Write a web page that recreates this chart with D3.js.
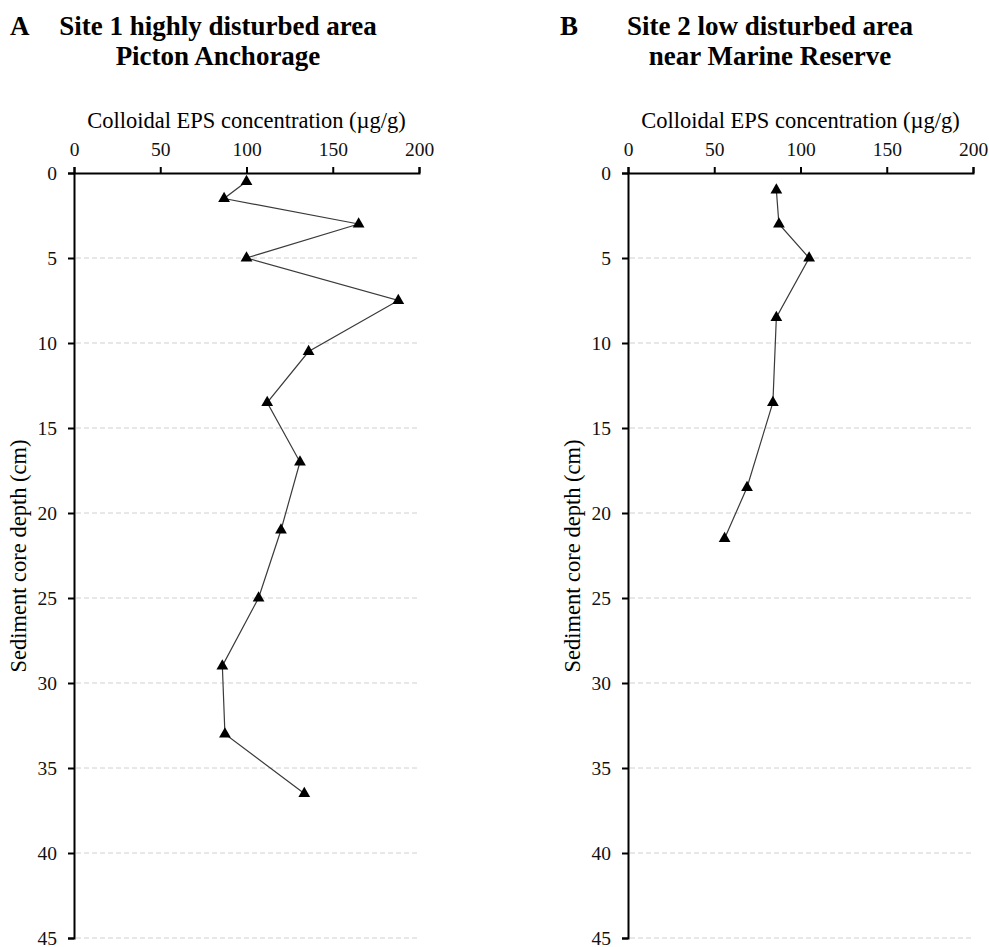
<!DOCTYPE html>
<html>
<head>
<meta charset="utf-8">
<script src="https://cdn.jsdelivr.net/npm/d3@7/dist/d3.min.js"></script>
<style>
  html, body { margin: 0; padding: 0; background: #fff; }
  svg { display: block; }
</style>
</head>
<body>
<svg id="chart" width="989" height="947"></svg>
<script>
// ---- Data ----
const depthA = [0.5, 1.5, 3, 5, 7.5, 10.5, 13.5, 17, 21, 25, 29, 33, 36.5];
const epsA   = [100, 87, 165, 100, 188, 136, 112, 131, 120, 107, 86, 87.5, 133.5];
const depthB = [1, 3, 5, 8.5, 13.5, 18.5, 21.5];
const epsB   = [86, 87.5, 105, 86, 84, 69, 56];
const xTicks = [0, 50, 100, 150, 200];
const yTicks = [0, 5, 10, 15, 20, 25, 30, 35, 40, 45];
const gridTicks = [5, 10, 15, 20, 25, 30, 35, 40, 45];
const panelLetters = ["A", "B"];
const titleLine1 = ["Site 1 highly disturbed area", "Site 2 low disturbed area"];
const titleLine2 = ["Picton Anchorage", "near Marine Reserve"];
const xLabel = "Colloidal EPS concentration (\u00b5g/g)";
const yLabel = "Sediment core depth (cm)";

const svg = d3.select("#chart");
const serif = "'Liberation Serif', 'Times New Roman', serif";

const panels = [
  { left: 74, right: 419, letterX: 10, titleCx: 218, depth: depthA, eps: epsA },
  { left: 628, right: 973, letterX: 560, titleCx: 770, depth: depthB, eps: epsB }
];
const plotTop = 173, plotBottom = 938;

panels.forEach((p, i) => {
  const x = d3.scaleLinear().domain([0, 200]).range([p.left, p.right]);
  const y = d3.scaleLinear().domain([0, 45]).range([plotTop, plotBottom]);
  const g = svg.append("g");

  // titles
  g.append("text").attr("x", p.letterX).attr("y", 35)
    .attr("font-family", serif).attr("font-weight", "bold").attr("font-size", 27)
    .text(panelLetters[i]);
  g.append("text").attr("x", p.titleCx).attr("y", 35).attr("text-anchor", "middle")
    .attr("font-family", serif).attr("font-weight", "bold").attr("font-size", 27)
    .text(titleLine1[i]);
  g.append("text").attr("x", p.titleCx).attr("y", 65).attr("text-anchor", "middle")
    .attr("font-family", serif).attr("font-weight", "bold").attr("font-size", 27)
    .text(titleLine2[i]);

  // grid
  g.append("g").selectAll("line").data(gridTicks).join("line")
    .attr("x1", p.left + 2).attr("x2", p.right)
    .attr("y1", d => y(d)).attr("y2", d => y(d))
    .attr("stroke", "#d0d0d0").attr("stroke-width", 1)
    .attr("stroke-dasharray", "5,3");

  // axes
  const xAxis = d3.axisTop(x).tickValues(xTicks).tickSize(6).tickSizeOuter(6).tickPadding(11);
  const yAxis = d3.axisLeft(y).tickValues(yTicks).tickSize(6).tickSizeOuter(6).tickPadding(11);

  const gx = g.append("g").attr("transform", `translate(0,${plotTop})`).call(xAxis);
  const gy = g.append("g").attr("transform", `translate(${p.left},0)`).call(yAxis);
  [gx, gy].forEach(a => {
    a.select(".domain").attr("stroke", "#000").attr("stroke-width", 2);
    a.selectAll(".tick line").attr("stroke", "#000").attr("stroke-width", 2);
    a.selectAll(".tick text").attr("font-family", serif).attr("font-size", 19.5).attr("fill", "#111");
  });

  // axis labels
  g.append("text").attr("x", (p.left + p.right) / 2).attr("y", 128)
    .attr("text-anchor", "middle").attr("font-family", serif).attr("font-size", 22.5)
    .text(xLabel);
  g.append("text")
    .attr("transform", `translate(${p.left - 48},556) rotate(-90)`)
    .attr("text-anchor", "middle").attr("font-family", serif).attr("font-size", 22.5)
    .text(yLabel);

  // data
  const pts = p.depth.map((d, k) => ({ d, v: p.eps[k] }));
  const line = d3.line().x(d => x(d.v)).y(d => y(d.d));
  g.append("path").datum(pts).attr("d", line)
    .attr("fill", "none").attr("stroke", "#3a3a3a").attr("stroke-width", 1.2);
  const sym = d3.symbol().type(d3.symbolTriangle).size(60);
  g.append("g").selectAll("path").data(pts).join("path")
    .attr("transform", d => `translate(${x(d.v)},${y(d.d)})`)
    .attr("d", sym).attr("fill", "#000");
});
</script>
</body>
</html>
